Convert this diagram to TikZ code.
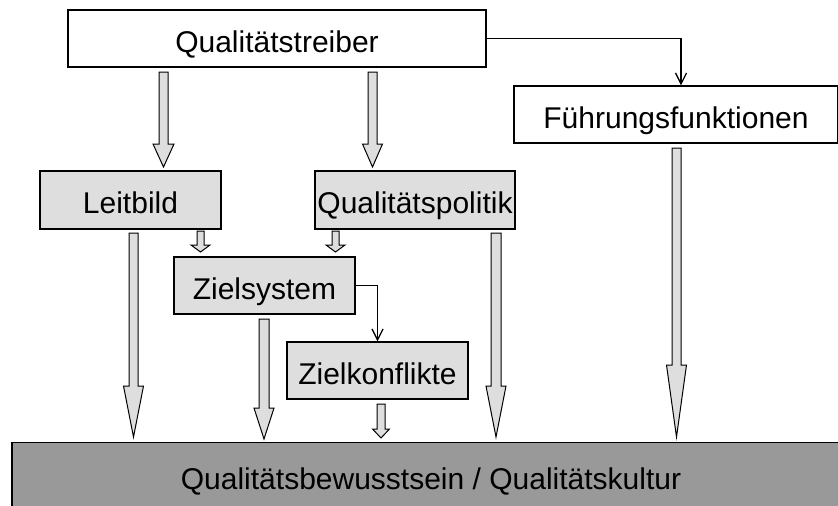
\documentclass[tikz,border=0pt]{standalone}
\usepackage{fontspec}
\setmainfont{Liberation Sans}
\usetikzlibrary{arrows.meta}
\definecolor{boxgrey}{gray}{0.87}
\definecolor{bargrey}{gray}{0.6}
\tikzset{
  box/.style={draw, line width=1.2pt, inner sep=0pt, text height=27pt, text depth=0pt, font=\fontsize{30}{36}\selectfont},
  whitebox/.style={box, fill=white},
  greybox/.style={box, fill=boxgrey},
  thinconn/.style={draw, line width=1.3pt, -{Straight Barb[length=11pt,width=11pt]}},
  blk/.style={draw, line width=1pt, fill=boxgrey, line join=miter}
}
% #1 x centre, #2 top y, #3 head start y, #4 tip y, #5 shaft half width, #6 head half width
\newcommand\blkarrow[6]{%
  \path[blk] (#1-#5,#2) -- (#1+#5,#2) -- (#1+#5,#3) -- (#1+#6,#3) -- (#1,#4)
    -- (#1-#6,#3) -- (#1-#5,#3) -- cycle;}
\begin{document}
\begin{tikzpicture}[x=1pt,y=-1pt]
\useasboundingbox (0,0) rectangle (838,506);
\clip (0,0) rectangle (838,506);
% nodes
\node[whitebox, minimum width=418pt, minimum height=57pt] (treib) at (277,38.5) {Qualitätstreiber};
\node[whitebox, minimum width=324pt, minimum height=57pt] (fuehr) at (676,114.5) {Führungsfunktionen};
\node[greybox, minimum width=181pt, minimum height=58pt] (leit) at (130.5,200) {Leitbild};
\node[greybox, minimum width=200pt, minimum height=58pt] (polit) at (415,200) {Qualitätspolitik};
\node[greybox, minimum width=181pt, minimum height=57pt] (ziel) at (264.5,285.5) {Zielsystem};
\node[greybox, minimum width=181pt, minimum height=57pt] (konf) at (377.5,370.5) {Zielkonflikte};
\node[box, fill=bargrey, minimum width=838pt, minimum height=67pt] (bar) at (431,476) {Qualitätsbewusstsein / Qualitätskultur};
% thin connectors
\draw[thinconn] (treib.east) -| ([xshift=5pt]fuehr.north);
\draw[thinconn] (ziel.east) -| (konf.north);
% block arrows
\blkarrow{163.5}{72}{144}{167}{4.5}{10.5}
\blkarrow{372.5}{72}{144}{167}{4.5}{10}
\blkarrow{200.5}{231}{245}{252}{3.5}{9.5}
\blkarrow{335.5}{231}{245}{252}{3.5}{9.5}
\blkarrow{133.5}{233}{386}{437}{4.5}{10}
\blkarrow{264}{319}{408}{439}{5}{10}
\blkarrow{381}{404}{429}{438}{4}{8.5}
\blkarrow{496}{233}{386}{437}{5}{10}
\blkarrow{676.5}{148}{365}{437}{4.5}{10}
\end{tikzpicture}
\end{document}
